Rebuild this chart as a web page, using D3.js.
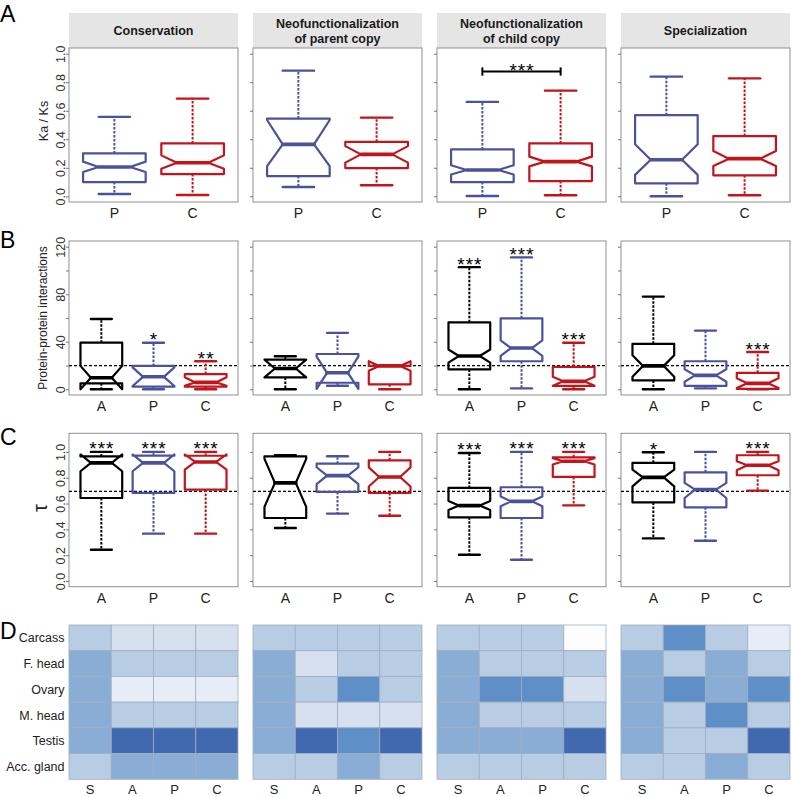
<!DOCTYPE html>
<html><head><meta charset="utf-8">
<script src="https://cdn.jsdelivr.net/npm/d3@7"></script>
<style>body{margin:0;background:#fff;} svg{display:block;}</style>
</head><body><svg id="chart" width="792" height="797"></svg>
<script>
// ---------------- DATA ----------------
const stripTitles = [["Conservation"], ["Neofunctionalization", "of parent copy"], ["Neofunctionalization", "of child copy"], ["Specialization"]];

// box stats per panel, per group: [lowWhisker, Q1, median, Q3, highWhisker, notchLow, notchHigh]
const kaksGroups = ["P", "C"];
const kaksTicks = [0, 0.2, 0.4, 0.6, 0.8, 1.0];
const kaksTickLabels = ["0.0", "0.2", "0.4", "0.6", "0.8", "1.0"];
const kaksStats = [
  [[0.016, 0.100, 0.205, 0.301, 0.557, 0.170, 0.243], [0.009, 0.156, 0.235, 0.371, 0.685, 0.193, 0.287]],
  [[0.065, 0.142, 0.364, 0.545, 0.881, 0.212, 0.535], [0.077, 0.198, 0.294, 0.382, 0.552, 0.236, 0.352]],
  [[0.002, 0.100, 0.184, 0.329, 0.662, 0.153, 0.218], [0.007, 0.107, 0.243, 0.371, 0.741, 0.210, 0.278]],
  [[0.000, 0.091, 0.256, 0.569, 0.839, 0.150, 0.365], [0.007, 0.147, 0.264, 0.422, 0.827, 0.212, 0.317]]
];
const kaksBracket = { panel: 2, from: 1, to: 2, level: 0.876, tickLow: 0.846, tickHigh: 0.904, label: "***" };

const ppiGroups = ["A", "P", "C"];
const ppiTicks = [0, 20, 40, 60, 80, 100, 120];
const ppiTickLabels = ["0", "", "40", "", "80", "", "120"];
const ppiStats = [
  [[0, 5.0, 9.7, 39.2, 59.2, 0.0, 19.7], [0, 2.2, 10.5, 19.7, 39.2, 2.8, 18.5], [0, 2.2, 5.8, 12.8, 23.6, 3.0, 10.2]],
  [[0, 10.0, 17.5, 25.0, 27.8, 10.0, 25.0], [3.0, 5.5, 13.9, 29.7, 47.5, 0.3, 27.5], [0, 4.2, 19.7, 19.7, 19.7, 15.6, 23.7]],
  [[0, 16.7, 28.0, 56.4, 102.8, 22.5, 33.5], [0.8, 23.6, 34.7, 59.7, 111.0, 28.2, 41.2], [0, 2.8, 6.7, 18.9, 39.2, 2.9, 10.5]],
  [[0, 7.5, 19.7, 38.3, 78.0, 10.5, 28.6], [0.8, 2.8, 11.7, 23.6, 49.4, 6.4, 16.9], [0, 0.3, 5.0, 13.9, 31.4, 1.0, 9.2]]
];
const ppiStars = [["", "*", "**"], ["", "", ""], ["***", "***", "***"], ["", "", "***"]];
const ppiReference = 20;

const tauGroups = ["A", "P", "C"];
const tauTicks = [0, 0.2, 0.4, 0.6, 0.8, 1.0];
const tauTickLabels = ["0.0", "0.2", "0.4", "0.6", "0.8", "1.0"];
const tauStats = [
  [[0.242, 0.643, 0.915, 0.965, 1.0, 0.850, 0.980], [0.367, 0.682, 0.915, 0.971, 1.0, 0.850, 0.980], [0.367, 0.708, 0.922, 0.970, 1.0, 0.863, 0.980]],
  [[0.411, 0.488, 0.760, 0.966, 0.975, 0.574, 0.946], [0.522, 0.690, 0.816, 0.909, 0.966, 0.751, 0.881], [0.506, 0.682, 0.806, 0.935, 1.0, 0.732, 0.880]],
  [[0.204, 0.493, 0.584, 0.721, 0.992, 0.550, 0.620], [0.165, 0.488, 0.617, 0.726, 1.0, 0.580, 0.655], [0.586, 0.806, 0.927, 0.958, 1.0, 0.902, 0.952]],
  [[0.330, 0.609, 0.803, 0.915, 0.997, 0.733, 0.863], [0.312, 0.571, 0.708, 0.842, 1.0, 0.643, 0.760], [0.700, 0.819, 0.896, 0.974, 1.0, 0.857, 0.927]]
];
const tauStars = [["***", "***", "***"], ["", "", ""], ["***", "***", "***"], ["*", "", "***"]];
const tauReference = 0.695;

const tissues = ["Carcass", "F. head", "Ovary", "M. head", "Testis", "Acc. gland"];
const heatColumns = ["S", "A", "P", "C"];
// expression level classes (0 = lowest, 6 = highest), per panel, rows = tissues, cols = S A P C
const heatLevels = [
  [[3, 2, 2, 2], [4, 3, 3, 3], [4, 1, 1, 1], [4, 3, 3, 3], [4, 6, 6, 6], [3, 4, 4, 4]],
  [[3, 3, 3, 3], [4, 2, 3, 3], [4, 3, 5, 3], [4, 2, 2, 2], [4, 6, 5, 6], [3, 3, 4, 3]],
  [[3, 3, 3, 0], [4, 3, 3, 3], [4, 5, 5, 2], [4, 3, 3, 3], [4, 4, 4, 6], [3, 3, 3, 3]],
  [[3, 5, 3, 1], [4, 3, 4, 3], [4, 5, 4, 5], [4, 3, 5, 3], [4, 3, 3, 6], [3, 3, 4, 3]]
];
const heatPalette = ["#fdfdfe", "#e7edf7", "#d6e0ef", "#b8cce4", "#8aadd6", "#5f8fc7", "#4169b0"];

const groupColors = { A: "#000000", P: "#4a529c", C: "#c1141b" };

// ---------------- LAYOUT ----------------
const FONT = "'Liberation Sans', Arial, Helvetica, sans-serif";
const svg = d3.select("#chart").style("font-family", FONT);
const panelLeft = [69, 253, 437, 621];
const panelWidth = 169;
const wex = 0.4, notchFrac = 0.5, stapleHalf = 0.2;
const STAR_SIZE = 19;

function drawBoxRow(cfg) {
  const { top, bottom, limits, groups, stats, ticks, tickLabels, stars, reference } = cfg;
  const pad = (limits[1] - limits[0]) * 0.04;
  const y = d3.scaleLinear().domain([limits[0] - pad, limits[1] + pad]).range([bottom, top]);
  const n = groups.length;
  const x = d3.scaleLinear().domain([0.5 - 0.04 * n, n + 0.5 + 0.04 * n]).range([0, panelWidth]);
  const scales = [];
  panelLeft.forEach((px, i) => {
    const g = svg.append("g").attr("transform", `translate(${px},0)`);
    g.append("rect").attr("x", 0).attr("y", top).attr("width", panelWidth).attr("height", bottom - top)
      .attr("fill", "none").attr("stroke", "#8f8f8f").attr("stroke-width", 1);
    const ax = g.append("g").call(d3.axisLeft(y).tickValues(ticks).tickSize(3).tickFormat(""));
    ax.select(".domain").remove();
    ax.selectAll(".tick line").attr("stroke", "#777");
    if (i === 0) {
      ax.selectAll(".tick").append("text")
        .attr("transform", "rotate(-90)").attr("x", 0).attr("y", -4.5)
        .attr("text-anchor", "middle").attr("fill", "#333")
        .style("font-size", "12.5px").style("font-family", FONT)
        .text((d, k) => tickLabels[k]);
    }
    if (reference !== undefined) {
      g.append("line").attr("x1", 0).attr("x2", panelWidth).attr("y1", y(reference)).attr("y2", y(reference))
        .attr("stroke", "#000").attr("stroke-width", 1.3).attr("stroke-dasharray", "3,2");
    }
    groups.forEach((grp, j) => {
      const [wl, q1, med, q3, wh, nlo, nhi] = stats[i][j];
      const cx = j + 1;
      const col = groupColors[grp];
      const pts = [[cx - wex, q1], [cx + wex, q1], [cx + wex, nlo], [cx + wex * notchFrac, med], [cx + wex, nhi],
        [cx + wex, q3], [cx - wex, q3], [cx - wex, nhi], [cx - wex * notchFrac, med], [cx - wex, nlo]];
      const bg = g.append("g").attr("stroke", col).attr("fill", "none");
      bg.append("line").attr("x1", x(cx)).attr("x2", x(cx)).attr("y1", y(q3)).attr("y2", y(wh))
        .attr("stroke-width", 2).attr("stroke-dasharray", "2.5,1.5");
      bg.append("line").attr("x1", x(cx)).attr("x2", x(cx)).attr("y1", y(q1)).attr("y2", y(wl))
        .attr("stroke-width", 2).attr("stroke-dasharray", "2.5,1.5");
      [wh, wl].forEach(v => {
        bg.append("line").attr("x1", x(cx - stapleHalf)).attr("x2", x(cx + stapleHalf)).attr("y1", y(v)).attr("y2", y(v))
          .attr("stroke-width", 2.4).attr("stroke-linecap", "round");
      });
      bg.append("path").attr("d", d3.line().x(d => x(d[0])).y(d => y(d[1]))(pts) + "Z")
        .attr("stroke-width", 2.2).attr("stroke-linejoin", "round");
      bg.append("line").attr("x1", x(cx - wex * notchFrac)).attr("x2", x(cx + wex * notchFrac))
        .attr("y1", y(med)).attr("y2", y(med)).attr("stroke-width", 3.6).attr("stroke-linecap", "round");
      g.append("text").attr("x", x(cx)).attr("y", bottom + 16).attr("text-anchor", "middle")
        .attr("fill", "#222").style("font-size", "14px").text(grp);
      if (stars && stars[i][j]) {
        g.append("text").attr("x", x(cx) + 0.5).attr("y", y(wh) - 7.5 + 0.58 * STAR_SIZE).attr("text-anchor", "middle")
          .style("font-size", STAR_SIZE + "px").style("letter-spacing", "1px").attr("fill", "#000").text(stars[i][j]);
      }
    });
    scales.push({ g, x, y });
  });
  return scales;
}

// Panel A strips
panelLeft.forEach((px, i) => {
  const g = svg.append("g").attr("transform", `translate(${px},0)`);
  g.append("rect").attr("x", 0).attr("y", 13).attr("width", panelWidth).attr("height", 35).attr("fill", "#e5e5e5");
  const lines = stripTitles[i];
  const base = lines.length === 1 ? [34.5] : [27.5, 42.5];
  lines.forEach((t, k) => {
    g.append("text").attr("x", panelWidth / 2).attr("y", base[k]).attr("text-anchor", "middle")
      .style("font-size", "12.5px").style("font-weight", "bold").attr("fill", "#1a1a1a").text(t);
  });
});

const rowA = drawBoxRow({ top: 48, bottom: 202, limits: [0, 1], groups: kaksGroups, stats: kaksStats,
  ticks: kaksTicks, tickLabels: kaksTickLabels });
{
  const { g, x, y } = rowA[kaksBracket.panel];
  const b = kaksBracket;
  const bg = g.append("g").attr("stroke", "#000").attr("stroke-width", 2);
  bg.append("line").attr("x1", x(b.from)).attr("x2", x(b.to)).attr("y1", y(b.level)).attr("y2", y(b.level));
  [b.from, b.to].forEach(v => bg.append("line").attr("x1", x(v)).attr("x2", x(v)).attr("y1", y(b.tickLow)).attr("y2", y(b.tickHigh)));
  g.append("text").attr("x", (x(b.from) + x(b.to)) / 2 + 0.5).attr("y", y(b.level) - 5 + 0.58 * STAR_SIZE)
    .attr("text-anchor", "middle").style("font-size", STAR_SIZE + "px").style("letter-spacing", "1px").text(b.label);
}

drawBoxRow({ top: 241, bottom: 395, limits: [0, 120], groups: ppiGroups, stats: ppiStats,
  ticks: ppiTicks, tickLabels: ppiTickLabels, stars: ppiStars, reference: ppiReference });

drawBoxRow({ top: 433.3, bottom: 586.7, limits: [0, 1.1], groups: tauGroups, stats: tauStats,
  ticks: tauTicks, tickLabels: tauTickLabels, stars: tauStars, reference: tauReference });

// Heatmaps (panel D)
const hy = d3.scaleBand().domain(tissues).range([625, 779.3]);
const hcolor = d3.scaleOrdinal().domain(d3.range(heatPalette.length)).range(heatPalette);
panelLeft.forEach((px, i) => {
  const g = svg.append("g").attr("transform", `translate(${px},0)`);
  const hx = d3.scaleBand().domain(heatColumns).range([0, panelWidth]);
  tissues.forEach((t, r) => {
    heatColumns.forEach((c, k) => {
      g.append("rect").attr("x", hx(c)).attr("y", hy(t)).attr("width", hx.bandwidth()).attr("height", hy.bandwidth())
        .attr("fill", hcolor(heatLevels[i][r][k])).attr("stroke", "#9eaec2").attr("stroke-width", 0.8);
    });
  });
  heatColumns.forEach(c => {
    g.append("text").attr("x", hx(c) + hx.bandwidth() / 2).attr("y", 794).attr("text-anchor", "middle")
      .attr("fill", "#222").style("font-size", "13px").text(c);
  });
});
tissues.forEach(t => {
  svg.append("text").attr("x", 64.5).attr("y", hy(t) + hy.bandwidth() / 2 + 4.5).attr("text-anchor", "end")
    .attr("fill", "#222").style("font-size", "12.5px").text(t);
});

// Axis titles
svg.append("text").attr("transform", "translate(48,121) rotate(-90)").attr("text-anchor", "middle")
  .attr("fill", "#222").style("font-size", "12.5px").text("Ka / Ks");
svg.append("text").attr("transform", "translate(47,318) rotate(-90)").attr("text-anchor", "middle")
  .attr("fill", "#222").style("font-size", "12px").text("Protein-protein interactions");
svg.append("text").attr("transform", "translate(47,508) rotate(-90)").attr("text-anchor", "middle")
  .attr("fill", "#222").style("font-size", "20px").text("τ");

// Panel letters
[["A", 22], ["B", 248], ["C", 445], ["D", 639]].forEach(([l, yy]) => {
  svg.append("text").attr("x", 0).attr("y", yy).style("font-size", "23px").attr("fill", "#000").text(l);
});
</script></body></html>
